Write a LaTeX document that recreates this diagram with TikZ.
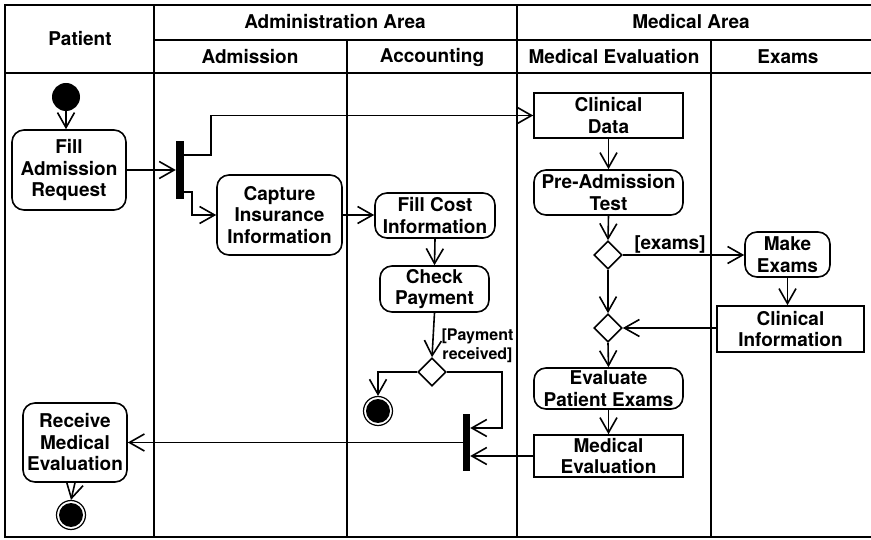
\documentclass[tikz,border=0pt]{standalone}
\usepackage{fontspec}
\setmainfont{TeX Gyre Heros}
\usetikzlibrary{arrows.meta,shapes.geometric,calc}
\begin{document}
\begin{tikzpicture}[x=1pt,y=-1pt,
  every node/.style={font=\bfseries\fontsize{19}{21.5}\selectfont, align=center, inner sep=0pt},
  lane/.style={line width=1.8pt},
  act/.style={draw, line width=1.6pt, rounded corners=12pt},
  obj/.style={draw, line width=1.6pt},
  arr/.style={line width=1.6pt, -{Straight Barb[length=15pt,width=17pt,line width=1.6pt]}},
  bar/.style={fill=black, draw=none, inner sep=0pt},
  decision/.style={draw, diamond, line width=1.6pt, minimum width=28pt, minimum height=28pt, inner sep=0pt},
  initial/.style={circle, fill=black, minimum size=28pt, inner sep=0pt},
  final/.style={circle, draw, line width=1.2pt, minimum size=29pt, inner sep=0pt,
    path picture={\fill[black] (path picture bounding box.center) circle (12pt);}},
  guard/.style={font=\bfseries\fontsize{16}{18.5}\selectfont}]
\useasboundingbox (0,0) rectangle (871,540);

% swimlane frame
\draw[lane] (871,5) -- (5,5) -- (5,537) -- (871,537);
\draw[lane] (154,40) -- (871,40);
\draw[lane] (5,73) -- (871,73);
\draw[lane] (154,5) -- (154,537);
\draw[lane] (347,40) -- (347,537);
\draw[lane] (517,5) -- (517,537);
\draw[lane] (711,40) -- (711,537);

% lane headers
\node (hpat) at (80,39) {Patient};
\node (hadm) at (335,22) {Administration Area};
\node (hmed) at (691,22) {Medical Area};
\node (hadn) at (250,57) {Admission};
\node (hacc) at (432,57) {Accounting};
\node (hmev) at (614,57) {Medical Evaluation};
\node (hexa) at (788,57) {Exams};

% nodes
\node[initial] (start) at (66,97) {};
\node[act, minimum width=114pt, minimum height=80pt] (fill) at (69,170) {Fill\\Admission\\Request};
\node[bar, minimum width=8pt, minimum height=58pt] (fork) at (180,170) {};
\node[act, minimum width=125pt, minimum height=80pt] (capture) at (279.5,215) {Capture\\Insurance\\Information};
\node[act, minimum width=120pt, minimum height=45pt] (fillcost) at (435,215.5) {Fill Cost\\Information};
\node[act, minimum width=109pt, minimum height=46pt] (check) at (434.5,289) {Check\\Payment};
\node[decision] (pay) at (432,372) {};
\node[final] (end1) at (378,411) {};
\node[bar, minimum width=7pt, minimum height=57pt] (join) at (466.5,442.5) {};
\node[act, minimum width=104pt, minimum height=79pt] (receive) at (75,442.5) {Receive\\Medical\\Evaluation};
\node[final] (end2) at (71,515) {};

\node[obj, minimum width=149pt, minimum height=45pt] (cdata) at (608.5,115.5) {Clinical\\Data};
\node[act, minimum width=149pt, minimum height=45pt] (pretest) at (608.5,192.5) {Pre-Admission\\Test};
\node[decision] (dexam) at (608,255) {};
\node[act, minimum width=85pt, minimum height=45pt] (make) at (787.5,254.5) {Make\\Exams};
\node[obj, minimum width=147pt, minimum height=46pt] (cinfo) at (790.5,329) {Clinical\\Information};
\node[decision] (merge) at (608,328) {};
\node[act, minimum width=149pt, minimum height=41pt] (evalx) at (608.5,388.5) {Evaluate\\Patient Exams};
\node[obj, minimum width=149pt, minimum height=42pt] (medev) at (608.5,456) {Medical\\Evaluation};

% guards
\node (gexam) at (670,244) {[exams]};
\node[guard] (gpay) at (477.5,346) {[Payment\\received]};

% control flow
\draw[arr] (start) -- (start |- fill.north);
\draw[arr] (fill.east) -- (fork.west);
\draw[arr] ($(fork.north east)+(0,14)$) -- ++(27,0) |- (cdata.west);
\draw[arr] ($(fork.south east)+(0,-7)$) -- ++(8,0) |- (capture.west);
\draw[arr] (capture.east) -- (capture.east -| fillcost.west);
\draw[arr] (fillcost.south) -- (check.north);
\draw[arr] (check.south) -- (pay.north);
\draw[arr] (pay.west) -| (end1.north);
\coordinate (pturn) at (502,428);
\draw[arr] (pay.east) -| (pturn) -- (pturn -| join.east);
\draw[arr] (medev.west) -- (medev.west -| join.east);
\draw[arr] (join.west) -- (receive.east);
\draw[arr] (receive.south) -- (end2.north);

\draw[arr] (cdata.south) -- (pretest.north);
\draw[arr] (pretest.south) -- (dexam.north);
\draw[arr] (dexam.east) -- (dexam.east -| make.west);
\draw[arr] (make.south) -- (make.south |- cinfo.north);
\draw[arr] (cinfo.west |- merge.east) -- (merge.east);
\draw[arr] (dexam.south) -- (merge.north);
\draw[arr] (merge.south) -- (evalx.north);
\draw[arr] (evalx.south) -- (medev.north);
\end{tikzpicture}
\end{document}
